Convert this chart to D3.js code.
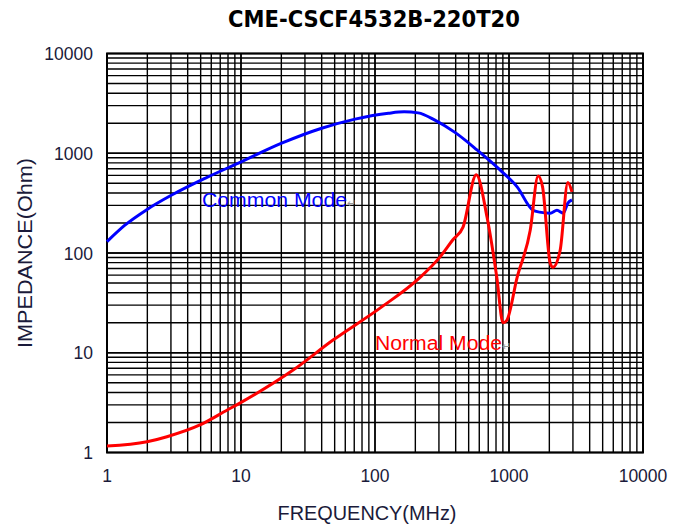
<!DOCTYPE html>
<html><head><meta charset="utf-8">
<script src="https://cdn.jsdelivr.net/npm/d3@7"></script>
<style>body{margin:0;background:#fff}svg{display:block}</style>
</head><body>
<script>
const title = "CME-CSCF4532B-220T20";
const xTicks = [1, 10, 100, 1000, 10000];
const yTicks = [1, 10, 100, 1000, 10000];
const commonFreq = [1, 1.36, 1.98, 3.04, 5.39, 10.1, 20.1, 40, 71, 126, 165, 210, 280, 400, 577, 857, 1150, 1510, 1690, 2030, 2280, 2540, 2750, 2950];
const commonZ    = [130, 190, 272, 381, 561, 823, 1260, 1780, 2200, 2520, 2600, 2540, 2150, 1600, 1080, 680, 460, 268, 257, 251, 268, 251, 317, 340];
const normalFreq = [1, 1.99, 2.8, 4.94, 7.9, 9.8, 24.5, 48.6, 109, 217, 305, 380, 454, 570, 686, 811, 902, 960, 1150, 1440, 1650, 1780, 2030, 2130, 2410, 2750, 2950];
const normalZ    = [1.16, 1.28, 1.44, 1.89, 2.67, 3.13, 6.7, 13.4, 28, 57, 91, 135, 182, 610, 228, 57, 20, 21, 57, 169, 590, 460, 79, 72, 107, 510, 410];

const W = 684, H = 527;
const L = 107, R = 643, T = 53.5, B = 452.5;
const svg = d3.select("body").append("svg").attr("width", W).attr("height", H);
const x = d3.scaleLog().domain([1, 10000]).range([L, R]);
const y = d3.scaleLog().domain([1, 10000]).range([B, T]);

// grid
const minor = [];
for (let d = 1; d < 10000; d *= 10) for (let k = 1; k <= 10; k++) minor.push(d * k);
const g = svg.append("g");
g.selectAll("line.v").data(minor).join("line")
  .attr("x1", d => x(d)).attr("x2", d => x(d)).attr("y1", T).attr("y2", B)
  .attr("stroke", "#000").attr("stroke-width", 1.4);
g.selectAll("line.h").data(minor).join("line")
  .attr("y1", d => y(d)).attr("y2", d => y(d)).attr("x1", L).attr("x2", R)
  .attr("stroke", "#000").attr("stroke-width", 1.4);
svg.append("rect").attr("x", L).attr("y", T).attr("width", R - L).attr("height", B - T)
  .attr("fill", "none").attr("stroke", "#000").attr("stroke-width", 2);

// axes labels
const font = "'Liberation Sans', Arial, sans-serif";
const ink = "#1a1a3a";
svg.append("g").selectAll("text").data(yTicks).join("text")
  .attr("x", 93).attr("y", d => y(d) + 6.5).attr("text-anchor", "end")
  .attr("font-family", font).attr("font-size", 17.5).attr("fill", ink).text(d => d);
svg.append("g").selectAll("text").data(xTicks).join("text")
  .attr("x", d => x(d)).attr("y", 482).attr("text-anchor", "middle")
  .attr("font-family", font).attr("font-size", 17.5).attr("fill", ink).text(d => d);
svg.append("text").attr("x", 367).attr("y", 520).attr("text-anchor", "middle")
  .attr("font-family", font).attr("font-size", 21).attr("fill", ink)
  .attr("textLength", 179).attr("lengthAdjust", "spacingAndGlyphs").text("FREQUENCY(MHz)");
svg.append("text").attr("transform", "translate(32,253) rotate(-90)").attr("text-anchor", "middle")
  .attr("font-family", font).attr("font-size", 21).attr("fill", ink)
  .attr("textLength", 190).attr("lengthAdjust", "spacingAndGlyphs").text("IMPEDANCE(Ohm)");
svg.append("text").attr("x", 374).attr("y", 27).attr("text-anchor", "middle")
  .attr("font-family", "'DejaVu Sans', sans-serif").attr("font-weight", "bold").attr("font-size", 23)
  .attr("textLength", 292).attr("lengthAdjust", "spacingAndGlyphs").attr("fill", "#000").text(title);

// curves
const line = d3.line().x(d => x(d[0])).y(d => y(d[1])).curve(d3.curveMonotoneX);
svg.append("path").datum(commonFreq.map((f, i) => [f, commonZ[i]]))
  .attr("d", line).attr("fill", "none").attr("stroke", "#0000ff").attr("stroke-width", 3);
svg.append("path").datum(normalFreq.map((f, i) => [f, normalZ[i]]))
  .attr("d", line).attr("fill", "none").attr("stroke", "#ff0000").attr("stroke-width", 3);

// series labels
const cm = svg.append("text").attr("x", 202).attr("y", 207).attr("font-family", font).attr("font-size", 20);
cm.append("tspan").attr("fill", "#0000ff").attr("textLength", 145).attr("lengthAdjust", "spacingAndGlyphs").text("Common Mode");
cm.append("tspan").attr("fill", "#999").attr("font-size", 11).text("↵");
const nm = svg.append("text").attr("x", 375).attr("y", 350).attr("font-family", font).attr("font-size", 20);
nm.append("tspan").attr("fill", "#ff0000").attr("textLength", 127).attr("lengthAdjust", "spacingAndGlyphs").text("Normal Mode");
nm.append("tspan").attr("fill", "#999").attr("font-size", 11).text("↵");
</script>
</body></html>
